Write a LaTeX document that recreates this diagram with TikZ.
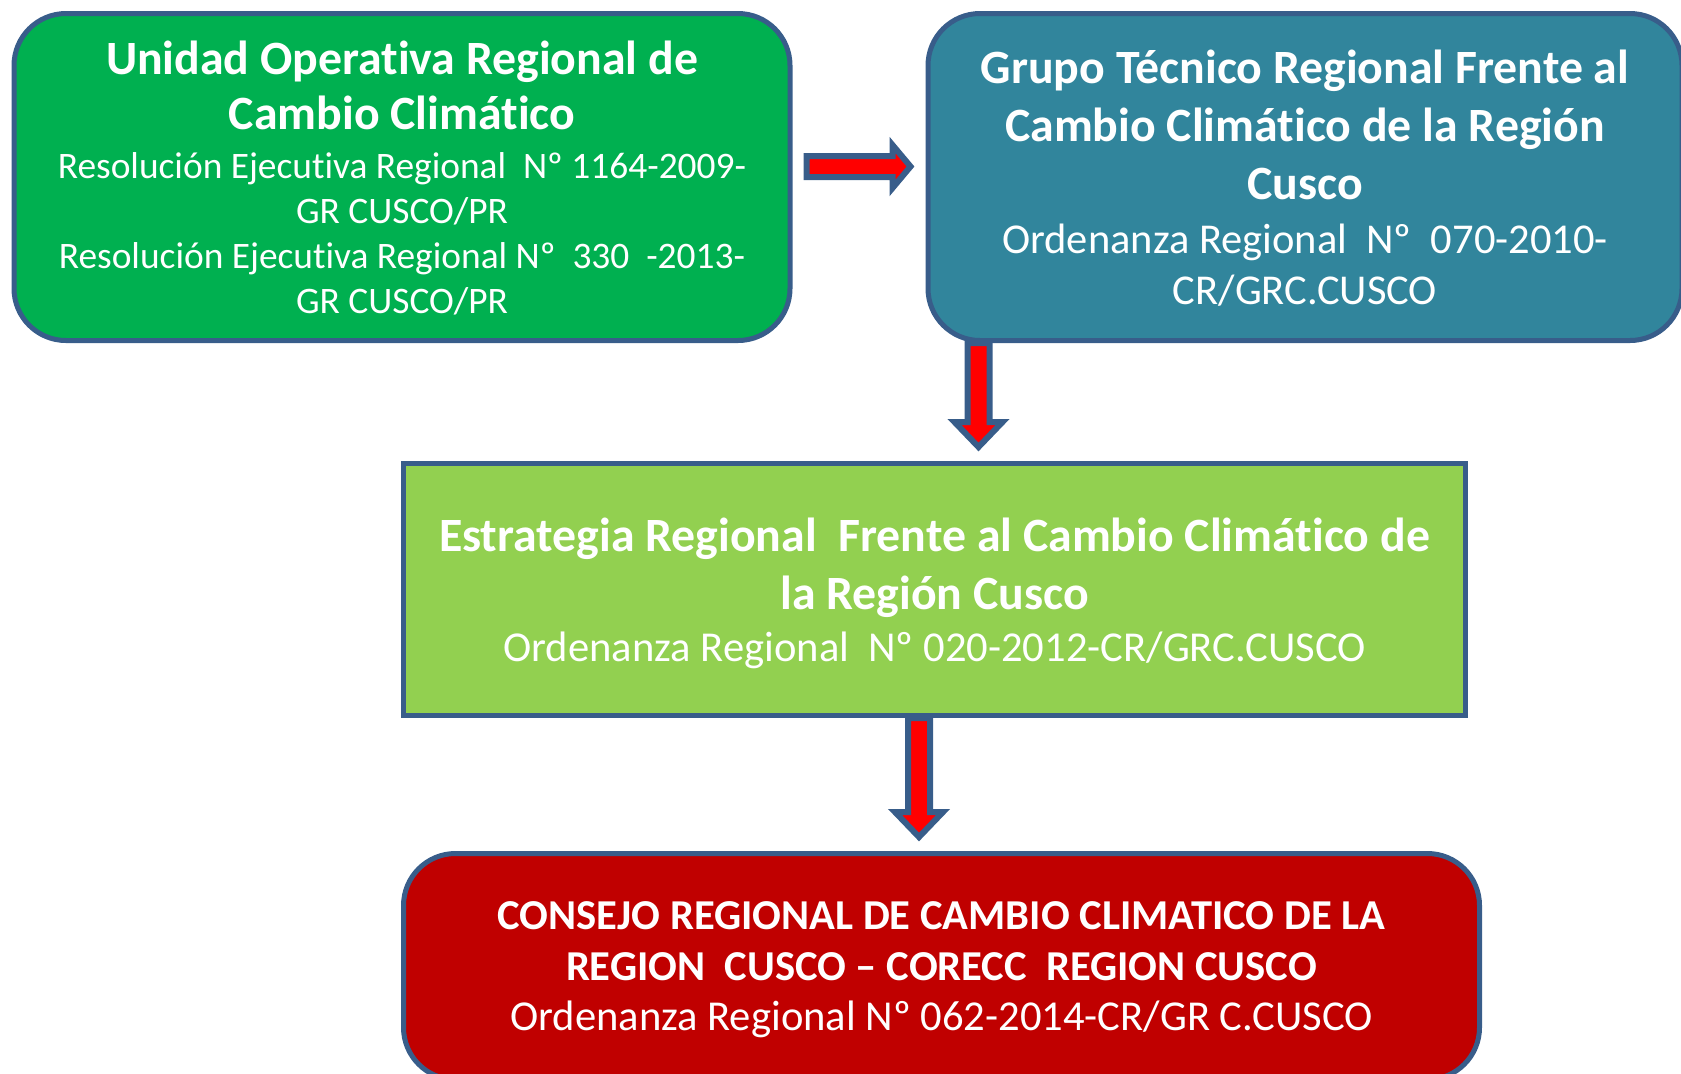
\documentclass[tikz,border=0pt]{standalone}
\usepackage{fontspec}
\setmainfont{Carlito}[Ligatures={NoCommon,NoRare,NoContextual},RawFeature={-calt}]
\usepackage{tikz}
\usetikzlibrary{positioning,calc}

\definecolor{bordeazul}{HTML}{385D8A}
\definecolor{verdeuo}{HTML}{00B050}
\definecolor{azulgt}{HTML}{31859C}
\definecolor{verdeclaro}{HTML}{92D050}
\definecolor{rojoconsejo}{HTML}{C00000}
\definecolor{rojoflecha}{HTML}{FF0000}

\tikzset{
  caja/.style={draw=bordeazul, line width=2.5pt, text=white, align=center, inner sep=0pt, text depth=0pt},
  cajaredonda/.style={caja, rounded corners=26pt},
  flechabloque/.style={draw=bordeazul, fill=rojoflecha, line width=3pt, line join=miter},
}

\begin{document}
\begin{tikzpicture}[x=0.5pt,y=-0.5pt]
        \useasboundingbox (0,0) rectangle (1681,1073);

        % cajas
        \node[cajaredonda, fill=verdeuo, minimum width=388pt, minimum height=163.5pt,
              font=\fontsize{18.7}{22.5}\selectfont] (uorcc) at (402,177)
        {{\bfseries\fontsize{23.9}{27.5}\selectfont Unidad Operativa Regional de}\\[5pt]
         {\bfseries\fontsize{23.9}{27.5}\selectfont Cambio Climático}\\[2pt]
         Resolución Ejecutiva Regional\ \ Nº 1164-2009-\\
         GR CUSCO/PR\\
         Resolución Ejecutiva Regional Nº\ \ 330\ \ -2013-\\
         GR CUSCO/PR};

        \node[cajaredonda, fill=azulgt, minimum width=377pt, minimum height=163.5pt,
              font=\fontsize{21.25}{25.75}\selectfont] (gtr) at (1305,177)
        {{\bfseries\fontsize{23.9}{29}\selectfont Grupo Técnico Regional Frente al}\\[3.25pt]
         {\bfseries\fontsize{23.9}{29}\selectfont Cambio Climático de la Región}\\[3.25pt]
         {\bfseries\fontsize{23.9}{29}\selectfont Cusco}\\[1.25pt]
         Ordenanza Regional\ \ Nº\ \ 070-2010-\\
         CR/GRC.CUSCO};

        \node[caja, fill=verdeclaro, minimum width=531pt, minimum height=126pt,
              font=\fontsize{21.3}{25.75}\selectfont] (erfcc) at (934.5,589.5)
        {{\bfseries\fontsize{23.9}{29}\selectfont Estrategia Regional\ \ Frente al Cambio Climático de}\\[3.25pt]
         {\bfseries\fontsize{23.9}{29}\selectfont la Región Cusco}\\[0.5pt]
         Ordenanza Regional\ \ Nº 020-2012-CR/GRC.CUSCO};

        \node[cajaredonda, fill=rojoconsejo, minimum width=538pt, minimum height=113pt,
              font=\fontsize{21.3}{25.25}\selectfont] (corecc) at (941.5,966.5)
        {{\bfseries CONSEJO REGIONAL DE CAMBIO CLIMATICO DE LA}\\
         {\bfseries REGION\ \ CUSCO -- CORECC\ \ REGION CUSCO}\\
         Ordenanza Regional Nº 062-2014-CR/GR C.CUSCO};

        % flechas
        \draw[flechabloque] ($(uorcc.east)+(14,-21)$) -- ++(86,0) -- ++(0,-11) -- ++(18,21.5)
            -- ++(-18,21.5) -- ++(0,-11) -- ++(-86,0) -- cycle;
        \draw[flechabloque] ($(gtr.south west)+(42,0)$) -- ++(0,79) -- ++(-13,0) -- ++(24,25)
            -- ++(24,-25) -- ++(-13,0) -- ++(0,-79) -- cycle;
        \draw[flechabloque] ($(erfcc.south)+(-26.5,0)$) -- ++(0,94) -- ++(-13,0) -- ++(24,25)
            -- ++(24,-25) -- ++(-13,0) -- ++(0,-94) -- cycle;
\end{tikzpicture}
\end{document}
